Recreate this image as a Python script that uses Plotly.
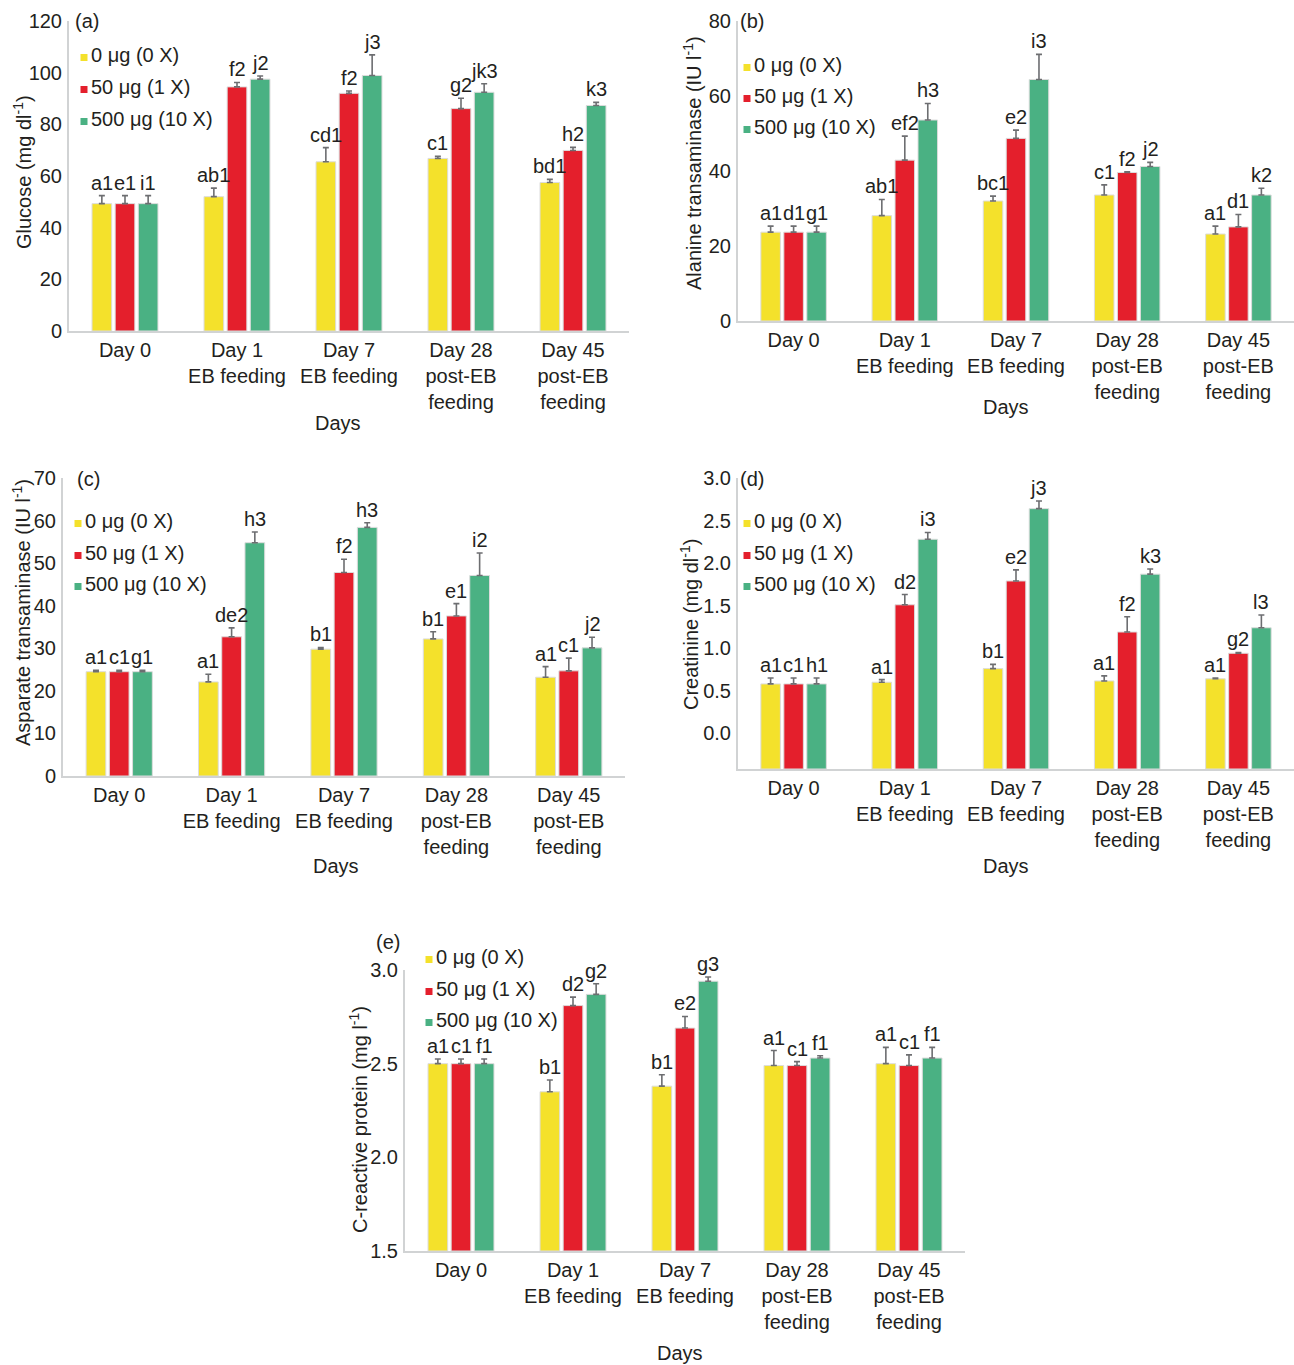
import plotly.graph_objects as go

W, H = 1294, 1365
FONT = "Liberation Sans, Arial, sans-serif"
TXT = "#231f20"
FS = 20      # general text size
FS_LAB = 20  # letters above the bars

categories = ["Day 0", "Day 1<br>EB feeding", "Day 7<br>EB feeding",
              "Day 28<br>post-EB<br>feeding", "Day 45<br>post-EB<br>feeding"]
series_names = ["0 μg (0 X)", "50 μg (1 X)", "500 μg (10 X)"]
colors = ["#F4E12B", "#E41F2C", "#4AB183"]

# (a) Glucose (mg dl-1)
glucose_0x = [49.3, 52.0, 65.5, 66.8, 57.5]
glucose_1x = [49.3, 94.5, 92.0, 86.1, 69.9]
glucose_10x = [49.3, 97.5, 98.9, 92.4, 87.3]
glucose_err_0x = [3.1, 3.3, 5.5, 0.8, 1.2]
glucose_err_1x = [3.1, 1.7, 0.9, 4.0, 1.2]
glucose_err_10x = [3.1, 1.2, 8.0, 3.3, 1.2]
glucose_lab_0x = ["a1", "ab1", "cd1", "c1", "bd1"]
glucose_lab_1x = ["e1", "f2", "f2", "g2", "h2"]
glucose_lab_10x = ["i1", "j2", "j3", "jk3", "k3"]

# (b) Alanine transaminase (IU l-1)
alt_0x = [23.7, 28.1, 32.0, 33.6, 23.2]
alt_1x = [23.7, 42.9, 48.7, 39.6, 25.1]
alt_10x = [23.7, 53.6, 64.4, 41.2, 33.6]
alt_err_0x = [1.6, 4.3, 1.3, 2.7, 2.1]
alt_err_1x = [1.6, 6.4, 2.2, 0.2, 3.3]
alt_err_10x = [1.6, 4.4, 6.7, 1.1, 1.8]
alt_lab_0x = ["a1", "ab1", "bc1", "c1", "a1"]
alt_lab_1x = ["d1", "ef2", "e2", "f2", "d1"]
alt_lab_10x = ["g1", "h3", "i3", "j2", "k2"]

# (c) Asparate transaminase (IU l-1)
ast_0x = [24.5, 22.1, 29.8, 32.2, 23.2]
ast_1x = [24.5, 32.7, 47.8, 37.6, 24.7]
ast_10x = [24.5, 54.8, 58.4, 47.1, 30.1]
ast_err_0x = [0.3, 1.8, 0.4, 1.7, 2.5]
ast_err_1x = [0.3, 2.1, 3.1, 2.9, 3.0]
ast_err_10x = [0.3, 2.5, 1.1, 5.3, 2.5]
ast_lab_0x = ["a1", "a1", "b1", "b1", "a1"]
ast_lab_1x = ["c1", "de2", "f2", "e1", "c1"]
ast_lab_10x = ["g1", "h3", "h3", "i2", "j2"]

# (d) Creatinine (mg dl-1)
creat_0x = [0.58, 0.60, 0.76, 0.615, 0.64]
creat_1x = [0.58, 1.51, 1.79, 1.19, 0.94]
creat_10x = [0.58, 2.28, 2.64, 1.87, 1.24]
creat_err_0x = [0.07, 0.03, 0.05, 0.06, 0.01]
creat_err_1x = [0.07, 0.12, 0.13, 0.18, 0.01]
creat_err_10x = [0.07, 0.08, 0.09, 0.06, 0.15]
creat_lab_0x = ["a1", "a1", "b1", "a1", "a1"]
creat_lab_1x = ["c1", "d2", "e2", "f2", "g2"]
creat_lab_10x = ["h1", "i3", "j3", "k3", "l3"]

# (e) C-reactive protein (mg l-1)
crp_0x = [2.50, 2.35, 2.38, 2.49, 2.50]
crp_1x = [2.50, 2.81, 2.69, 2.49, 2.49]
crp_10x = [2.50, 2.87, 2.94, 2.53, 2.53]
crp_err_0x = [0.025, 0.063, 0.061, 0.08, 0.087]
crp_err_1x = [0.025, 0.045, 0.062, 0.021, 0.057]
crp_err_10x = [0.025, 0.057, 0.023, 0.012, 0.057]
crp_lab_0x = ["a1", "b1", "b1", "a1", "a1"]
crp_lab_1x = ["c1", "d2", "e2", "c1", "c1"]
crp_lab_10x = ["f1", "g2", "g3", "f1", "f1"]

panels = [
    dict(tag="(a)", ytitle="Glucose (mg dl<sup>-1</sup>)",
         vals=[glucose_0x, glucose_1x, glucose_10x],
         errs=[glucose_err_0x, glucose_err_1x, glucose_err_10x],
         labs=[glucose_lab_0x, glucose_lab_1x, glucose_lab_10x],
         xdom=(69, 629), ydom=(21, 331), yrange=(0, 120), dtick=20, fmt="d",
         tagpos=(87, 21), ytpos=(22, 172), dayspos=(338, 423),
         leg=(84, [55, 87, 119])),
    dict(tag="(b)", ytitle="Alanine transaminase (IU l<sup>-1</sup>)",
         vals=[alt_0x, alt_1x, alt_10x],
         errs=[alt_err_0x, alt_err_1x, alt_err_10x],
         labs=[alt_lab_0x, alt_lab_1x, alt_lab_10x],
         xdom=(738, 1294), ydom=(21, 321), yrange=(0, 80), dtick=20, fmt="d",
         tagpos=(752, 21), ytpos=(692, 163), dayspos=(1006, 407),
         leg=(747, [65, 96, 127])),
    dict(tag="(c)", ytitle="Asparate transaminase (IU l<sup>-1</sup>)",
         vals=[ast_0x, ast_1x, ast_10x],
         errs=[ast_err_0x, ast_err_1x, ast_err_10x],
         labs=[ast_lab_0x, ast_lab_1x, ast_lab_10x],
         xdom=(63, 625), ydom=(478, 776), yrange=(0, 70), dtick=10, fmt="d",
         tagpos=(88, 479), ytpos=(21, 613), dayspos=(336, 866),
         leg=(78, [521, 553, 584])),
    dict(tag="(d)", ytitle="Creatinine (mg dl<sup>-1</sup>)",
         vals=[creat_0x, creat_1x, creat_10x],
         errs=[creat_err_0x, creat_err_1x, creat_err_10x],
         labs=[creat_lab_0x, creat_lab_1x, creat_lab_10x],
         xdom=(738, 1294), ydom=(478, 769), yrange=(-0.42, 3.0), dtick=0.5, fmt=".1f",
         tagpos=(752, 479), ytpos=(690, 625), dayspos=(1006, 866),
         leg=(747, [521, 553, 584])),
    dict(tag="(e)", ytitle="C-reactive protein (mg l<sup>-1</sup>)",
         vals=[crp_0x, crp_1x, crp_10x],
         errs=[crp_err_0x, crp_err_1x, crp_err_10x],
         labs=[crp_lab_0x, crp_lab_1x, crp_lab_10x],
         xdom=(405, 965), ydom=(970, 1251), yrange=(1.5, 3.0), dtick=0.5, fmt=".1f",
         tagpos=(388, 942), ytpos=(358, 1120), dayspos=(680, 1353),
         leg=(429, [957, 989, 1020])),
]

BARGAP = 0.38
GROUPW = 1 - BARGAP


def px(x):
    return x / W


def py(y):
    return 1 - y / H


fig = go.Figure()
annotations = []
shapes = []
xpos = list(range(len(categories)))

for p_i, p in enumerate(panels):
    n = "" if p_i == 0 else str(p_i + 1)
    xa, ya = "x" + n, "y" + n
    base = p["yrange"][0]
    for k in range(3):
        vals = p["vals"][k]
        fig.add_trace(go.Bar(
            x=xpos, y=[v - base for v in vals], base=base,
            name=series_names[k], showlegend=False,
            marker=dict(color=colors[k], line=dict(color="#dcdcdc", width=1)),
            error_y=dict(type="data", symmetric=False, array=p["errs"][k],
                         arrayminus=[0] * len(vals), color="#6d6e71",
                         thickness=1.6, width=3),
            xaxis=xa, yaxis=ya,
        ))
        for i, lab in enumerate(p["labs"][k]):
            annotations.append(dict(
                x=i + (k - 1) * GROUPW / 3, y=p["vals"][k][i] + p["errs"][k][i],
                xref=xa, yref=ya, text=lab, showarrow=False,
                yanchor="bottom", xanchor="center", yshift=0,
                font=dict(family=FONT, size=FS_LAB, color=TXT)))
    tv = []
    v = p["yrange"][0] if p["yrange"][0] >= 0 else 0.0
    while v <= p["yrange"][1] + 1e-9:
        tv.append(round(v, 3))
        v += p["dtick"]
    tt = [format(t, p["fmt"]) if p["fmt"] != "d" else str(int(round(t))) for t in tv]
    fig.layout["xaxis" + n] = dict(
        domain=[px(p["xdom"][0]), px(p["xdom"][1])], anchor=ya,
        range=[-0.5, len(categories) - 0.5], tickvals=xpos, ticktext=categories,
        tickangle=0, automargin=False,
        showline=True, linecolor="#d1d3d4", linewidth=2, ticks="",
        showgrid=False, zeroline=False, fixedrange=True,
        tickfont=dict(family=FONT, size=FS, color=TXT), ticklabelstandoff=0)
    fig.layout["yaxis" + n] = dict(
        domain=[py(p["ydom"][1]), py(p["ydom"][0])], anchor=xa,
        range=list(p["yrange"]), tickvals=tv, ticktext=tt, automargin=False,
        showline=True, linecolor="#d1d3d4", linewidth=2, ticks="",
        showgrid=False, zeroline=False, fixedrange=True,
        tickfont=dict(family=FONT, size=FS, color=TXT), ticklabelstandoff=1)
    # panel tag
    annotations.append(dict(x=px(p["tagpos"][0]), y=py(p["tagpos"][1]), xref="paper", yref="paper",
                            text=p["tag"], showarrow=False, xanchor="center", yanchor="middle",
                            font=dict(family=FONT, size=FS, color=TXT)))
    # y title
    annotations.append(dict(x=px(p["ytpos"][0]), y=py(p["ytpos"][1]), xref="paper", yref="paper",
                            text=p["ytitle"], showarrow=False, textangle=-90,
                            xanchor="center", yanchor="middle",
                            font=dict(family=FONT, size=FS, color=TXT)))
    # x title
    annotations.append(dict(x=px(p["dayspos"][0]), y=py(p["dayspos"][1]), xref="paper", yref="paper",
                            text="Days", showarrow=False, xanchor="center", yanchor="middle",
                            font=dict(family=FONT, size=FS, color=TXT)))
    # legend
    sx, rows = p["leg"]
    for k in range(3):
        ry = rows[k]
        shapes.append(dict(type="rect", xref="paper", yref="paper",
                           x0=px(sx - 3.5), x1=px(sx + 3.5), y0=py(ry + 6), y1=py(ry - 1),
                           fillcolor=colors[k], line=dict(width=0)))
        annotations.append(dict(x=px(sx + 5), y=py(ry), xref="paper", yref="paper",
                                text=series_names[k], showarrow=False, xanchor="left",
                                yanchor="middle", font=dict(family=FONT, size=FS, color=TXT)))

fig.update_layout(
    width=W, height=H, margin=dict(l=0, r=0, t=0, b=0, autoexpand=False),
    paper_bgcolor="white", plot_bgcolor="white",
    barmode="group", bargap=BARGAP, bargroupgap=0.15,
    annotations=annotations, shapes=shapes,
    font=dict(family=FONT, color=TXT),
)

fig.write_html("out.html")
